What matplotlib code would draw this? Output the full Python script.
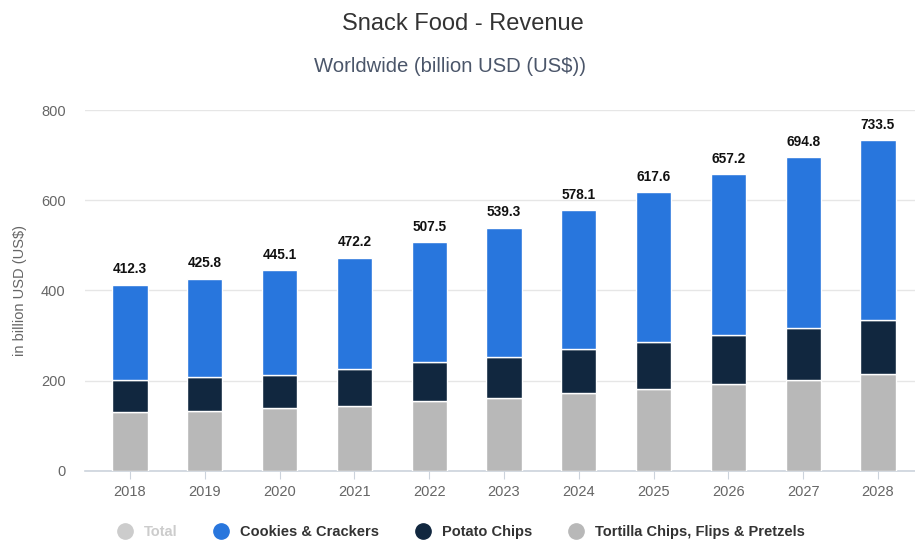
import matplotlib
matplotlib.use("Agg")
import matplotlib.pyplot as plt
from matplotlib.lines import Line2D
import numpy as np

plt.rcParams['font.family'] = ['Liberation Sans', 'DejaVu Sans']

years = ["2018", "2019", "2020", "2021", "2022", "2023", "2024", "2025", "2026", "2027", "2028"]
totals = [412.3, 425.8, 445.1, 472.2, 507.5, 539.3, 578.1, 617.6, 657.2, 694.8, 733.5]
tortilla = [129.5, 133.0, 138.0, 143.5, 155.0, 161.0, 173.0, 181.0, 193.0, 202.0, 213.5]
potato = [71.5, 74.0, 74.0, 81.0, 86.0, 92.0, 97.5, 103.5, 109.0, 114.0, 120.5]
cookies = [t - a - b for t, a, b in zip(totals, tortilla, potato)]

c_blue = "#2876dd"
c_navy = "#11273f"
c_gray = "#b8b8b8"
c_total = "#cccccc"

fig = plt.figure(figsize=(9.15, 5.4), dpi=100)
ax = fig.add_axes([85 / 915, 1 - 470.7 / 540, 830 / 915, (470.7 - 110) / 540])

x = np.arange(len(years))
w = 0.47
edge = dict(edgecolor="white", linewidth=1.0)
ax.bar(x, tortilla, w, color=c_gray, **edge, zorder=3)
ax.bar(x, potato, w, bottom=tortilla, color=c_navy, **edge, zorder=3)
bottom2 = [a + b for a, b in zip(tortilla, potato)]
ax.bar(x, cookies, w, bottom=bottom2, color=c_blue, **edge, zorder=3)

for xi, t in zip(x, totals):
    ax.annotate(f"{t:.1f}", (xi, t), xytext=(0, 6), textcoords="offset points",
                ha="center", va="bottom", fontsize=9.8, fontweight="bold", color="#111111")

ax.set_xlim(-0.602, 10.495)
ax.set_ylim(0, 800)
ax.set_yticks([0, 200, 400, 600, 800])
ax.set_xticks(x)
ax.set_xticklabels(years)
ax.grid(axis="y", color="#e6e6e6", linewidth=1.0, zorder=0)
ax.set_axisbelow(True)
for s in ["top", "right", "left"]:
    ax.spines[s].set_visible(False)
ax.spines["bottom"].set_color("#ccd3dc")
ax.spines["bottom"].set_linewidth(1.2)
ax.tick_params(axis="y", length=0, pad=14, labelsize=10.5, labelcolor="#666666")
ax.tick_params(axis="x", length=6, color="#ccd3dc", pad=4, labelsize=10.5, labelcolor="#666666")
ax.set_ylabel("in billion USD (US$)", fontsize=10.5, color="#666666", labelpad=10)

fig.text(462.7 / 915, 1 - 24 / 540, "Snack Food - Revenue", ha="center", va="center",
         fontsize=17, color="#333333")
fig.text(450 / 915, 1 - 66 / 540, "Worldwide (billion USD (US$))", ha="center", va="center",
         fontsize=14.6, color="#4b566a")

handles = [
    Line2D([], [], marker="o", ls="", markersize=11, color=c_total),
    Line2D([], [], marker="o", ls="", markersize=11, color=c_blue),
    Line2D([], [], marker="o", ls="", markersize=11, color=c_navy),
    Line2D([], [], marker="o", ls="", markersize=11, color=c_gray),
]
labels = ["Total", "Cookies & Crackers", "Potato Chips", "Tortilla Chips, Flips & Pretzels"]
leg = fig.legend(handles, labels, loc="center", bbox_to_anchor=(0.5, 1 - 532 / 540),
                 ncol=4, frameon=False, handletextpad=0.3, columnspacing=2.0,
                 prop={"size": 10.5, "weight": "bold"})
for txt, col in zip(leg.get_texts(), [c_total, "#333333", "#333333", "#333333"]):
    txt.set_color(col)

fig.savefig("out.png", dpi=100)
